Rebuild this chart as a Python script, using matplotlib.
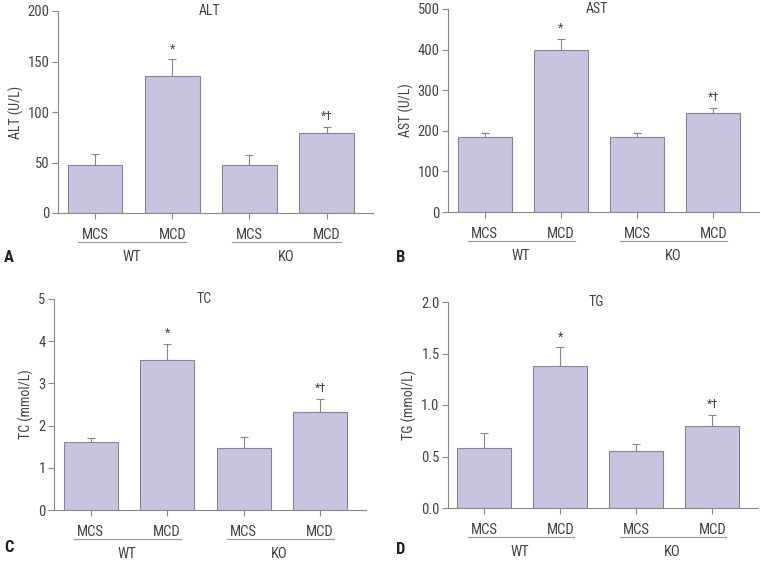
import numpy as np
import matplotlib.pyplot as plt

plt.rcParams['font.family'] = ['Roboto Condensed', 'Liberation Sans Narrow', 'Roboto', 'DejaVu Sans']

groups = ['MCS', 'MCD', 'MCS', 'MCD']
strains = ['WT', 'KO']

alt_mean = [48, 136, 48, 79]
alt_err = [10, 16, 9, 6]
ast_mean = [184, 398, 184, 244]
ast_err = [10, 28, 10, 12]
tc_mean = [1.61, 3.56, 1.47, 2.32]
tc_err = [0.09, 0.37, 0.25, 0.30]
tg_mean = [0.58, 1.38, 0.55, 0.80]
tg_err = [0.15, 0.18, 0.07, 0.10]

marks = ['', '*', '', '*†']

bar_color = '#c6c4df'
edge_color = '#85859a'
text_color = '#444444'
axis_color = '#888888'

W, H = 761, 561

# panel specs: title, ylabel, means, errs, ylim, yticks, fmt, axes box (px: left, right, top, bottom), letter pos
panels = [
    ('ALT', 'ALT (U/L)', alt_mean, alt_err, 200, [0, 50, 100, 150, 200], '{:.0f}', (58, 373, 11, 213), 'A', (9, 257)),
    ('AST', 'AST (U/L)', ast_mean, ast_err, 500, [0, 100, 200, 300, 400, 500], '{:.0f}', (448, 759, 9, 212), 'B', (401, 257)),
    ('TC', 'TC (mmol/L)', tc_mean, tc_err, 5, [0, 1, 2, 3, 4, 5], '{:.0f}', (54, 366, 299, 510), 'C', (9, 548)),
    ('TG', 'TG (mmol/L)', tg_mean, tg_err, 2.0, [0.0, 0.5, 1.0, 1.5, 2.0], '{:.1f}', (448, 758, 302, 508), 'D', (401, 549)),
]

fig = plt.figure(figsize=(W / 100, H / 100), dpi=100)

x = np.arange(len(groups))
for title, ylab, mean, err, ymax, yt, fmt, box, letter, lpos in panels:
    l, r, t, b = box
    ax = fig.add_axes([l / W, 1 - b / H, (r - l) / W, (b - t) / H])
    ax.bar(x, mean, width=0.71, color=bar_color, edgecolor=edge_color, linewidth=0.8, zorder=2)
    ax.errorbar(x, mean, yerr=[np.zeros(len(err)), err], fmt='none', ecolor=edge_color,
                elinewidth=0.8, capsize=3, capthick=0.8, zorder=1)
    for xi, m, e, s in zip(x, mean, err, marks):
        if s:
            ax.annotate(s, (xi, m + e), xytext=(0, 3), textcoords='offset points',
                        ha='center', va='bottom', fontsize=9, color=text_color)
    ax.set_xlim(-0.48, 3.6)
    ax.set_ylim(0, ymax)
    ax.set_yticks(yt)
    ax.set_yticklabels([fmt.format(v) for v in yt])
    ax.set_xticks(x)
    ax.set_xticklabels(groups)
    ax.set_ylabel(ylab, fontsize=10, color=text_color, labelpad=3)
    ax.text(0.48, 1.0, title, transform=ax.transAxes, ha='center', va='center',
            fontsize=10, color=text_color)
    for sp in ['top', 'right']:
        ax.spines[sp].set_visible(False)
    for sp in ['left', 'bottom']:
        ax.spines[sp].set_color(axis_color)
        ax.spines[sp].set_linewidth(0.8)
    ax.tick_params(colors=axis_color, labelcolor=text_color, labelsize=10.5, length=4, width=0.8)
    ax.tick_params(axis='y', pad=2)
    ax.tick_params(axis='x', pad=7)

    tr = ax.get_xaxis_transform()
    hpx = b - t
    for k, s in enumerate(strains):
        c = 2 * k
        ax.plot([c - 0.22, c + 1.18], [-29 / hpx, -29 / hpx], transform=tr, clip_on=False,
                color='#999999', linewidth=0.8)
        ax.text(c + 0.47, -44 / hpx, s, transform=tr, ha='center', va='center',
                fontsize=10.5, color=text_color)

    fig.text(lpos[0] / W, 1 - lpos[1] / H, letter, ha='center', va='center',
             fontsize=12, fontweight='bold', color='#222222')

fig.savefig('out.png', dpi=100)
